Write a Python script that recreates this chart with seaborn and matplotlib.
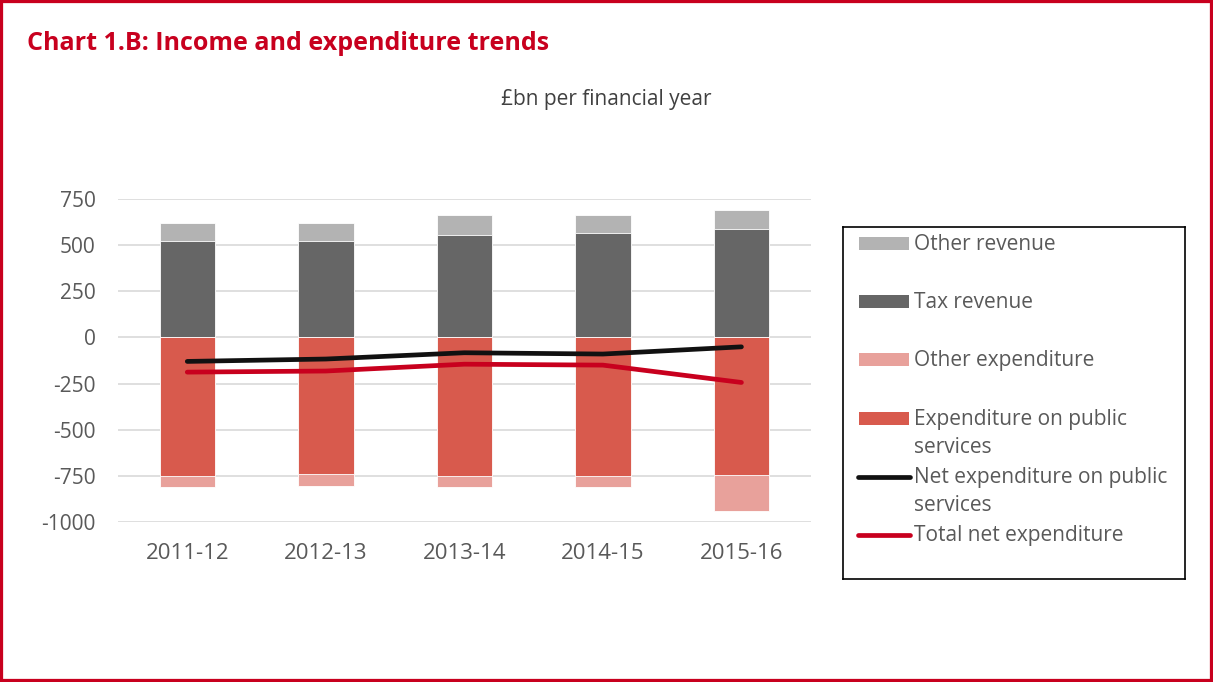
import matplotlib.pyplot as plt
import pandas as pd
import seaborn as sns
from matplotlib.patches import Rectangle
from matplotlib.lines import Line2D

years = ["2011-12", "2012-13", "2013-14", "2014-15", "2015-16"]
tax_revenue = [523, 522, 555, 566, 590]
other_revenue = [99, 100, 111, 96, 103]
public_services = [-750, -740, -750, -750, -745]
other_expenditure = [-58, -63, -62, -62, -193]
net_public = [-130, -117, -83, -90, -51]
total_net = [-188, -182, -145, -150, -244]

df = pd.DataFrame({
    "year": years,
    "tax": tax_revenue,
    "other_rev": other_revenue,
    "public": public_services,
    "other_exp": other_expenditure,
    "net_public": net_public,
    "total_net": total_net,
})
df["rev_total"] = df["tax"] + df["other_rev"]
df["exp_total"] = df["public"] + df["other_exp"]

RED = "#c8001e"
TEXT = "#595959"
C_OTHER_REV = "#b3b3b3"
C_TAX = "#666666"
C_OTHER_EXP = "#e8a19b"
C_PUBLIC = "#d85a4d"

sns.set_style("white")
plt.rcParams["font.family"] = ["Open Sans", "DejaVu Sans"]
plt.rcParams["axes.unicode_minus"] = False

W, H = 1213, 682
fig = plt.figure(figsize=(W / 100, H / 100), dpi=100)
ax = fig.add_axes([118 / W, 1 - 522 / H, (810.7 - 118) / W, (522 - 199) / H])

# stacked bars: draw totals first, then the lower segment on top
bar_kw = dict(x="year", width=0.4, ax=ax, saturation=1, edgecolor="white", linewidth=0.6)
sns.barplot(data=df, y="rev_total", color=C_OTHER_REV, **bar_kw)
sns.barplot(data=df, y="tax", color=C_TAX, **bar_kw)
sns.barplot(data=df, y="exp_total", color=C_OTHER_EXP, **bar_kw)
sns.barplot(data=df, y="public", color=C_PUBLIC, **bar_kw)

line_kw = dict(x="year", ax=ax, linewidth=3.4, sort=False, solid_capstyle="round")
sns.lineplot(data=df, y="net_public", color="#111111", **line_kw)
sns.lineplot(data=df, y="total_net", color=RED, **line_kw)

ax.set_xlim(-0.5, 4.5)
ax.set_ylim(-1000, 750)
ax.set_yticks([750, 500, 250, 0, -250, -500, -750, -1000])
ax.set_axisbelow(True)
ax.grid(axis="y", color="#d9d9d9", linewidth=1.2)
ax.grid(axis="x", visible=False)
for s in ax.spines.values():
    s.set_visible(False)
ax.set_xlabel("")
ax.set_ylabel("")
ax.tick_params(axis="both", length=0, labelsize=15, colors=TEXT)
ax.tick_params(axis="x", labelsize=16, pad=15)
ax.tick_params(axis="y", pad=16)

# titles
fig.text(27 / W, 1 - 43 / H, "Chart 1.B: Income and expenditure trends",
         color=RED, fontsize=18, fontweight="bold", ha="left", va="center")
fig.text(606 / W, 1 - 100 / H, "£bn per financial year",
         color="#404040", fontsize=15, ha="center", va="center")

# legend box, laid out in pixel units
lg = fig.add_axes([843 / W, 1 - 579 / H, (1185 - 843) / W, (579 - 227) / H])
lg.set_xlim(843, 1185)
lg.set_ylim(579, 227)
lg.set_xticks([])
lg.set_yticks([])
lg.patch.set_alpha(0)
for s in lg.spines.values():
    s.set_color("black")
    s.set_linewidth(1.2)

legend_items = [
    ("Other revenue", "patch", C_OTHER_REV),
    ("Tax revenue", "patch", C_TAX),
    ("Other expenditure", "patch", C_OTHER_EXP),
    ("Expenditure on public\nservices", "patch", C_PUBLIC),
    ("Net expenditure on public\nservices", "line", "#111111"),
    ("Total net expenditure", "line", RED),
]
for i, (label, kind, color) in enumerate(legend_items):
    y = 243 + i * 58.4
    if kind == "patch":
        lg.add_patch(Rectangle((859, y - 6.5), 50, 13, color=color, lw=0))
    else:
        lg.add_line(Line2D([858, 910], [y, y], color=color, lw=3.4,
                           solid_capstyle="round"))
    for j, line in enumerate(label.split("\n")):
        lg.text(914, y + 1 + j * 28, line, color=TEXT, fontsize=15,
                ha="left", va="center")

# red frame round the whole picture
fig.add_artist(Rectangle((0, 0), 1, 1, transform=fig.transFigure,
                         fill=False, edgecolor=RED, linewidth=4.5))

fig.savefig("out.png", dpi=100)
